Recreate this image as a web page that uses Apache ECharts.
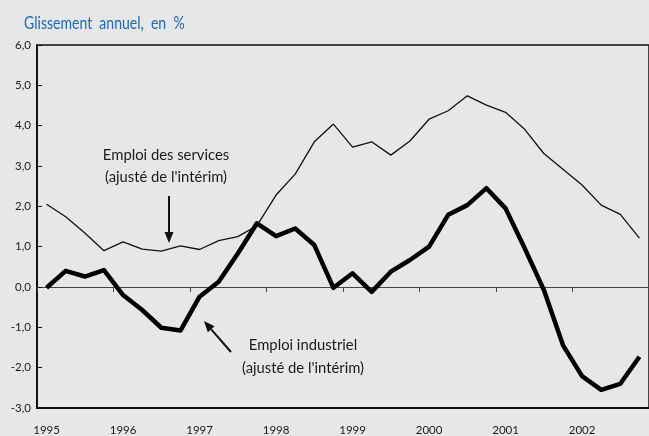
<!DOCTYPE html>
<html>
<head>
<meta charset="utf-8">
<script src="https://cdn.jsdelivr.net/npm/echarts@6/dist/echarts.min.js"></script>
<style>
html,body{margin:0;padding:0;background:#e6e7e9;}
#main{width:649px;height:436px;}
</style>
</head>
<body>
<div id="main"></div>
<script>
var years = ['1995', '1996', '1997', '1998', '1999', '2000', '2001', '2002'];
var quarters = [];
for (var y = 0; y < years.length; y++) {
    for (var q = 1; q <= 4; q++) {
        quarters.push(years[y] + 'T' + q);
    }
}
// glissement annuel, en %
var services = [2.05, 1.74, 1.34, 0.90, 1.12, 0.94, 0.89, 1.02,
                0.93, 1.15, 1.25, 1.52, 2.28, 2.80, 3.60, 4.04,
                3.47, 3.60, 3.27, 3.62, 4.16, 4.37, 4.74, 4.51,
                4.33, 3.91, 3.31, 2.92, 2.53, 2.03, 1.80, 1.21];
var industrie = [-0.02, 0.40, 0.26, 0.42, -0.20, -0.57, -1.01, -1.08,
                 -0.24, 0.13, 0.83, 1.58, 1.26, 1.45, 1.04, -0.02,
                 0.34, -0.12, 0.38, 0.67, 1.00, 1.79, 2.03, 2.45,
                 1.95, 0.96, -0.07, -1.44, -2.21, -2.55, -2.40, -1.73];

var myChart = echarts.init(document.getElementById('main'));
var font = 'Lato, "Open Sans", sans-serif';

function arrow(x1, y1, x2, y2) {
    // fleche de (x1,y1) vers la pointe (x2,y2)
    var dx = x2 - x1, dy = y2 - y1;
    var len = Math.sqrt(dx * dx + dy * dy);
    var ux = dx / len, uy = dy / len;
    var hl = 11, hw = 4.5;
    var bx = x2 - ux * hl, by = y2 - uy * hl;
    return {
        type : 'group',
        children : [ {
            type : 'line',
            shape : { x1 : x1, y1 : y1, x2 : bx, y2 : by },
            style : { stroke : '#111', lineWidth : 2 }
        }, {
            type : 'polygon',
            shape : { points : [ [ x2, y2 ], [ bx - uy * hw, by + ux * hw ], [ bx + uy * hw, by - ux * hw ] ] },
            style : { fill : '#111' }
        } ]
    };
}

var option = {
    backgroundColor : '#e6e7e9',
    animation : false,
    grid : {
        left : 37,
        top : 45,
        width : 616,
        height : 363,
        show : true,
        borderColor : '#111',
        borderWidth : 1.5,
        backgroundColor : 'transparent'
    },
    xAxis : [ {
        type : 'category',
        data : quarters,
        boundaryGap : true,
        position : 'bottom',
        axisLine : { onZero : false, lineStyle : { color : '#111', width : 2 } },
        axisTick : { show : false },
        axisLabel : {
            interval : 3,
            margin : 16,
            color : '#1a1a1a',
            fontFamily : font,
            fontSize : 11.5,
            formatter : function(value) {
                return value.substring(0, 4);
            }
        },
        splitLine : { show : false }
    }, {
        type : 'category',
        data : quarters,
        boundaryGap : true,
        position : 'bottom',
        axisLine : { onZero : true, lineStyle : { color : '#444', width : 1 } },
        axisTick : { show : true, interval : 3, length : 5, lineStyle : { color : '#444' } },
        axisLabel : { show : false },
        splitLine : { show : false }
    } ],
    yAxis : {
        type : 'value',
        min : -3,
        max : 6,
        interval : 1,
        axisLine : { show : true, lineStyle : { color : '#111', width : 2 } },
        axisTick : { show : true, inside : true, length : 5, lineStyle : { color : '#111' } },
        axisLabel : {
            margin : 6,
            color : '#1a1a1a',
            fontFamily : font,
            fontSize : 11.5,
            formatter : function(value) {
                return value.toFixed(1).replace('.', ',');
            }
        },
        splitLine : { show : false }
    },
    series : [ {
        name : 'Emploi des services',
        type : 'line',
        data : services,
        symbol : 'none',
        lineStyle : { color : '#111', width : 1.3 }
    }, {
        name : 'Emploi industriel',
        type : 'line',
        data : industrie,
        symbol : 'none',
        lineStyle : { color : '#000', width : 4.5, join : 'round' }
    } ],
    graphic : [ {
        type : 'text',
        x : 24,
        y : 23,
        scaleX : 0.78,
        style : {
            text : 'Glissement  annuel,  en  %',
            x : 0, y : 0,
            textAlign : 'left', textVerticalAlign : 'middle',
            font : '18px ' + font, fill : '#2468ad'
        }
    }, {
        type : 'text',
        style : {
            text : "Emploi des services\n(ajusté de l'intérim)",
            x : 166, y : 166,
            textAlign : 'center', textVerticalAlign : 'middle',
            font : '14.8px ' + font, lineHeight : 22, fill : '#1a1a1a'
        }
    }, {
        type : 'text',
        style : {
            text : "Emploi industriel\n(ajusté de l'intérim)",
            x : 303, y : 357,
            textAlign : 'center', textVerticalAlign : 'middle',
            font : '14.8px ' + font, lineHeight : 23, fill : '#1a1a1a'
        }
    },
    arrow(169, 196, 169, 243),
    arrow(231, 352, 204, 321) ]
};
myChart.setOption(option);
window.onresize = myChart.resize;
</script>
</body>
</html>
